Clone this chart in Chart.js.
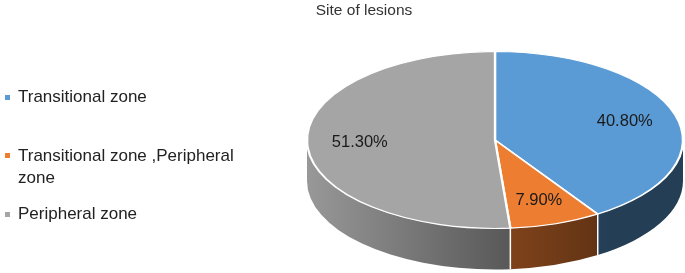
<!DOCTYPE html>
<html>
<head>
<meta charset="utf-8">
<script src="https://cdn.jsdelivr.net/npm/chart.js@4/dist/chart.umd.min.js"></script>
<style>
    body { margin: 0; background: #fff; }
    #wrap { position: relative; width: 685px; height: 273px; overflow: hidden; font-family: "Liberation Sans", Arial, sans-serif; }
    #pieChart { position: absolute; left: 0; top: 0; }
    #title { position: absolute; left: 264px; top: 1px; width: 200px; text-align: center; font-size: 15.5px; line-height: 18px; color: #333; }
    #legend { position: absolute; left: 5px; top: 86px; width: 235px; }
    .item { position: relative; height: 58.5px; padding-left: 13px; font-size: 17px; line-height: 22px; color: #222; }
    .item span { position: absolute; left: 0; top: 8.5px; width: 5px; height: 5px; }
</style>
</head>
<body>
<div id="wrap">
    <canvas id="pieChart" width="685" height="273"></canvas>
    <div id="title"></div>
    <div id="legend"></div>
</div>
<script>
const chartTitle = 'Site of lesions';
const labels = ['Transitional zone', 'Transitional zone ,Peripheral zone', 'Peripheral zone'];
const values = [40.8, 7.9, 51.3];
const colors = ['#5B9BD5', '#ED7D31', '#A5A5A5'];

const depth = 41;

document.getElementById('title').innerText = chartTitle;
const legend = document.getElementById('legend');
labels.forEach((label, i) => {
    const item = document.createElement('div');
    item.className = 'item';
    item.innerHTML = `<span style="background:${colors[i]}"></span>${label}`;
    legend.appendChild(item);
});

function shade(hex, f) {
    const n = parseInt(hex.slice(1), 16);
    const r = Math.round(((n >> 16) & 255) * f);
    const g = Math.round(((n >> 8) & 255) * f);
    const b = Math.round((n & 255) * f);
    return `rgb(${r},${g},${b})`;
}

const pie3d = {
    id: 'pie3d',
    beforeDatasetsDraw(chart) {
        const ctx = chart.ctx;
        const area = chart.chartArea;
        const arcs = chart.getDatasetMeta(0).data;
        const cx = arcs[0].x, cy = arcs[0].y, r = arcs[0].outerRadius;
        const rx = area.width / 2, ry = r;

        // side walls, only the front half can be seen
        arcs.forEach((arc, i) => {
            const a0 = Math.max(arc.startAngle, 0);
            const a1 = Math.min(arc.endAngle, Math.PI);
            if (a1 <= a0) return;
            const grad = ctx.createLinearGradient(cx - rx, 0, cx + rx, 0);
            grad.addColorStop(0, shade(colors[i], 0.92));
            grad.addColorStop(0.55, shade(colors[i], 0.53));
            grad.addColorStop(0.8, shade(colors[i], 0.4));
            grad.addColorStop(1, shade(colors[i], 0.4));
            ctx.beginPath();
            ctx.ellipse(cx, cy, rx, ry, 0, a0, a1);
            ctx.ellipse(cx, cy + depth, rx, ry, 0, a1, a0, true);
            ctx.closePath();
            ctx.fillStyle = grad;
            ctx.fill();
        });
        ctx.strokeStyle = '#fff';
        ctx.lineWidth = 1.5;
        arcs.forEach((arc) => {
            const a = arc.startAngle;
            if (a <= 0 || a >= Math.PI) return;
            const x = cx + rx * Math.cos(a), y = cy + ry * Math.sin(a);
            ctx.beginPath();
            ctx.moveTo(x, y);
            ctx.lineTo(x, y + depth);
            ctx.stroke();
        });

        // squash the round pie into the ellipse of the top face
        ctx.save();
        ctx.translate(cx, cy);
        ctx.scale(rx / r, 1);
        ctx.translate(-cx, -cy);
    },
    afterDatasetsDraw(chart) {
        const ctx = chart.ctx;
        ctx.restore();
        const area = chart.chartArea;
        const arcs = chart.getDatasetMeta(0).data;
        const cx = arcs[0].x, cy = arcs[0].y, r = arcs[0].outerRadius;
        const rx = area.width / 2, ry = r;
        ctx.save();
        ctx.font = '16.5px "Liberation Sans", Arial, sans-serif';
        ctx.fillStyle = '#1a1a1a';
        ctx.textAlign = 'center';
        ctx.textBaseline = 'middle';
        arcs.forEach((arc, i) => {
            const mid = (arc.startAngle + arc.endAngle) / 2;
            const x = cx + 0.72 * rx * Math.cos(mid);
            const y = cy + 0.72 * ry * Math.sin(mid);
            ctx.fillText(values[i].toFixed(2) + '%', x, y);
        });
        ctx.restore();
    }
};

const pctx = document.getElementById('pieChart').getContext('2d');
const pieChart = new Chart(pctx, {
    type: 'pie',
    data: {
        labels: labels,
        datasets: [
            {
                data: values,
                backgroundColor: colors,
                borderColor: '#fff',
                borderWidth: 1.1
            }
        ]
    },
    options: {
        responsive: false,
        animation: false,
        events: [],
        layout: {
            padding: { left: 307, right: 2, top: 51, bottom: 44 }
        },
        plugins: {
            legend: { display: false },
            title: { display: false },
            tooltip: { enabled: false }
        }
    },
    plugins: [pie3d]
});
</script>
</body>
</html>
